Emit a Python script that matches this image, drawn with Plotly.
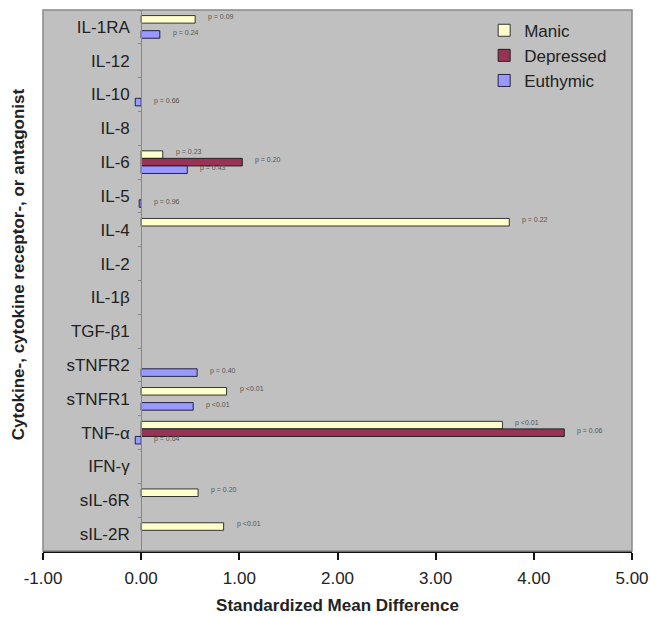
import plotly.graph_objects as go

categories = ["IL-1RA", "IL-12", "IL-10", "IL-8", "IL-6", "IL-5", "IL-4", "IL-2",
              "IL-1β", "TGF-β1", "sTNFR2", "sTNFR1", "TNF-α", "IFN-γ", "sIL-6R", "sIL-2R"]

manic = [0.55, None, None, None, 0.22, None, 3.75, None, None, None, None, 0.87, 3.68, None, 0.58, 0.84]
depressed = [None, None, None, None, 1.03, None, None, None, None, None, None, None, 4.31, None, None, None]
euthymic = [0.19, None, -0.06, None, 0.47, -0.02, None, None, None, None, 0.57, 0.53, -0.06, None, None, None]

manic_p = ["p = 0.09", None, None, None, "p = 0.23", None, "p = 0.22", None, None, None, None,
           "p <0.01", "p <0.01", None, "p = 0.20", "p <0.01"]
depressed_p = [None, None, None, None, "p = 0.20", None, None, None, None, None, None, None,
               "p = 0.06", None, None, None]
euthymic_p = ["p = 0.24", None, "p = 0.66", None, "p = 0.43", "p = 0.96", None, None, None, None,
              "p = 0.40", "p <0.01", "p = 0.64", None, None, None]

x_tickvals = [-1, 0, 1, 2, 3, 4, 5]
x_ticktext = ["-1.00", "0.00", "1.00", "2.00", "3.00", "4.00", "5.00"]

series = [
    ("Manic", manic, manic_p, "#ffffcc", "#333333", 8),
    ("Depressed", depressed, depressed_p, "#993355", "#222222", 0),
    ("Euthymic", euthymic, euthymic_p, "#9999ff", "#222244", -8),
]

FONT = "Liberation Sans, Arial, sans-serif"
fig = go.Figure()
annotations = []
for name, vals, plabels, color, lcolor, ysh in series:
    fig.add_trace(go.Bar(
        y=categories, x=vals, name=name, orientation="h",
        marker=dict(color=color, line=dict(color=lcolor, width=1)),
    ))
    for cat, v, p in zip(categories, vals, plabels):
        if p is None or v is None:
            continue
        annotations.append(dict(
            x=max(v, 0), y=cat, xref="x", yref="y", text=p, showarrow=False,
            xanchor="left", yanchor="middle", xshift=11, yshift=ysh + 2,
            font=dict(family=FONT, size=7, color="#555555"),
        ))

annotations.append(dict(
    x=-0.0425, y=0.53, xref="paper", yref="paper", textangle=-90,
    xanchor="center", yanchor="middle",
    text="<b>Cytokine-, cytokine receptor-, or antagonist</b>", showarrow=False,
    font=dict(family=FONT, size=17, color="#222222"),
))

fig.update_layout(
    width=650, height=617,
    margin=dict(l=43, r=18, t=10, b=66),
    paper_bgcolor="white", plot_bgcolor="#c0c0c0",
    barmode="group", bargap=0.33, bargroupgap=0,
    font=dict(family=FONT, color="#222222"),
    showlegend=True,
    legend=dict(x=0.749, y=0.995, xanchor="left", yanchor="top", bgcolor="rgba(0,0,0,0)",
                font=dict(family=FONT, size=17, color="#222222"), traceorder="normal",
                itemwidth=30, tracegroupgap=0),
    annotations=annotations,
    xaxis=dict(range=[-1, 5], tickvals=x_tickvals, ticktext=x_ticktext, automargin=False,
               showgrid=False, zeroline=False, showline=True, linecolor="#111111", linewidth=1.5,
               ticks="outside", ticklen=7, tickcolor="#111111", tickwidth=1.5,
               ticklabelstandoff=4,
               tickfont=dict(family=FONT, size=17, color="#222222"),
               title=dict(text="<b>Standardized Mean Difference</b>", standoff=12,
                          font=dict(family=FONT, size=17, color="#222222"))),
    yaxis=dict(type="category", categoryorder="array", categoryarray=categories,
               autorange="reversed", anchor="free", position=1 / 6, automargin=False,
               showgrid=False, zeroline=False, showline=True, linecolor="#888888", linewidth=1,
               ticks="outside", ticklen=3, tickcolor="#888888", tickson="boundaries",
               ticklabelstandoff=8,
               tickfont=dict(family=FONT, size=17, color="#222222")),
    shapes=[dict(type="rect", xref="paper", yref="paper", x0=0, y0=0, x1=1, y1=1,
                 line=dict(color="#888888", width=1.5), layer="above")],
)

# remove the browser's default 8px body margin so the figure fills the window exactly
fig.write_html("out.html", config={"displayModeBar": False},
               post_script="document.body.style.margin='0';document.body.style.overflow='hidden';")
